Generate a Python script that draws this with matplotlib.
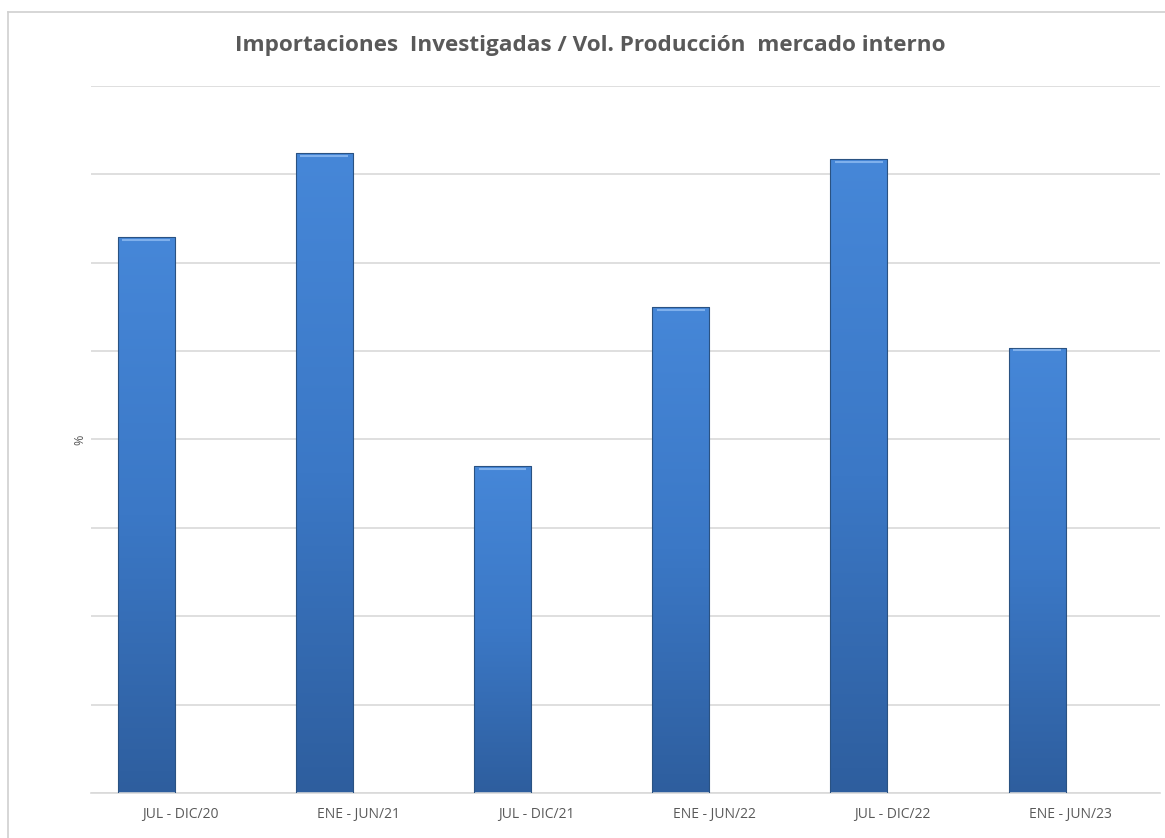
import matplotlib
matplotlib.use('Agg')
import matplotlib.pyplot as plt
import numpy as np
from matplotlib.colors import LinearSegmentedColormap
from matplotlib.lines import Line2D

# values (gridline units, no scale shown)
periods = ['JUL - DIC/20', 'ENE - JUN/21', 'JUL - DIC/21',
           'ENE - JUN/22', 'JUL - DIC/22', 'ENE - JUN/23']
ratio = [6.29, 7.24, 3.70, 5.50, 7.17, 5.04]

plt.rcParams['font.family'] = ['Open Sans', 'DejaVu Sans']

fig = plt.figure(figsize=(11.65, 8.38), dpi=100)
ax = fig.add_axes([0.0781, 0.0537, 0.9176, 0.8437])

x = np.arange(len(periods))
bars = ax.bar(x - 0.19, ratio, width=0.32, color='none',
              edgecolor='#2a5282', linewidth=0.8, zorder=3)

# vertical gradient, lighter on top, darker at the base
cmap = LinearSegmentedColormap.from_list('bl', ['#2e5e9e', '#3b78c6', '#4687d8'])
grad = np.linspace(0, 1, 256).reshape(-1, 1)
for b in bars:
    x0, w, h = b.get_x(), b.get_width(), b.get_height()
    im = ax.imshow(grad, cmap=cmap, origin='lower', aspect='auto',
                   extent=[x0, x0 + w, 0, h], zorder=2)
    im.set_clip_path(b)
    # small bevel highlight on top edge
    ax.plot([x0 + w * 0.08, x0 + w * 0.92], [h - 0.03, h - 0.03],
            color='#7fb0ec', lw=1.5, zorder=4, solid_capstyle='butt')

ax.set_xlim(-0.5, len(periods) - 0.5)
ax.set_ylim(0, 8)
ax.set_yticks(np.arange(0, 9))
ax.set_yticklabels([])
ax.tick_params(axis='y', length=0)
ax.grid(axis='y', color='#d9d9d9', linewidth=1.2, zorder=0)
ax.set_xticks(x)
ax.set_xticklabels(periods, fontsize=10, color='#595959')
ax.tick_params(axis='x', length=0, pad=10)
for s in ['top', 'right', 'left']:
    ax.spines[s].set_visible(False)
ax.spines['bottom'].set_color('#d9d9d9')
ax.spines['bottom'].set_linewidth(1.2)

ax.set_ylabel('%', fontsize=9, color='#595959', labelpad=0)

fig.text(0.507, 0.946, 'Importaciones  Investigadas / Vol. Producción  mercado interno',
         ha='center', va='center', fontsize=16.2, fontweight='bold', color='#595959')

# chart area border (left and top)
fig.add_artist(Line2D([0.0069, 0.0069], [0, 0.9857], color='#d0d0d0', lw=1.2,
                      transform=fig.transFigure))
fig.add_artist(Line2D([0.0069, 1], [0.9857, 0.9857], color='#d0d0d0', lw=1.2,
                      transform=fig.transFigure))

fig.savefig('out.png', dpi=100)
